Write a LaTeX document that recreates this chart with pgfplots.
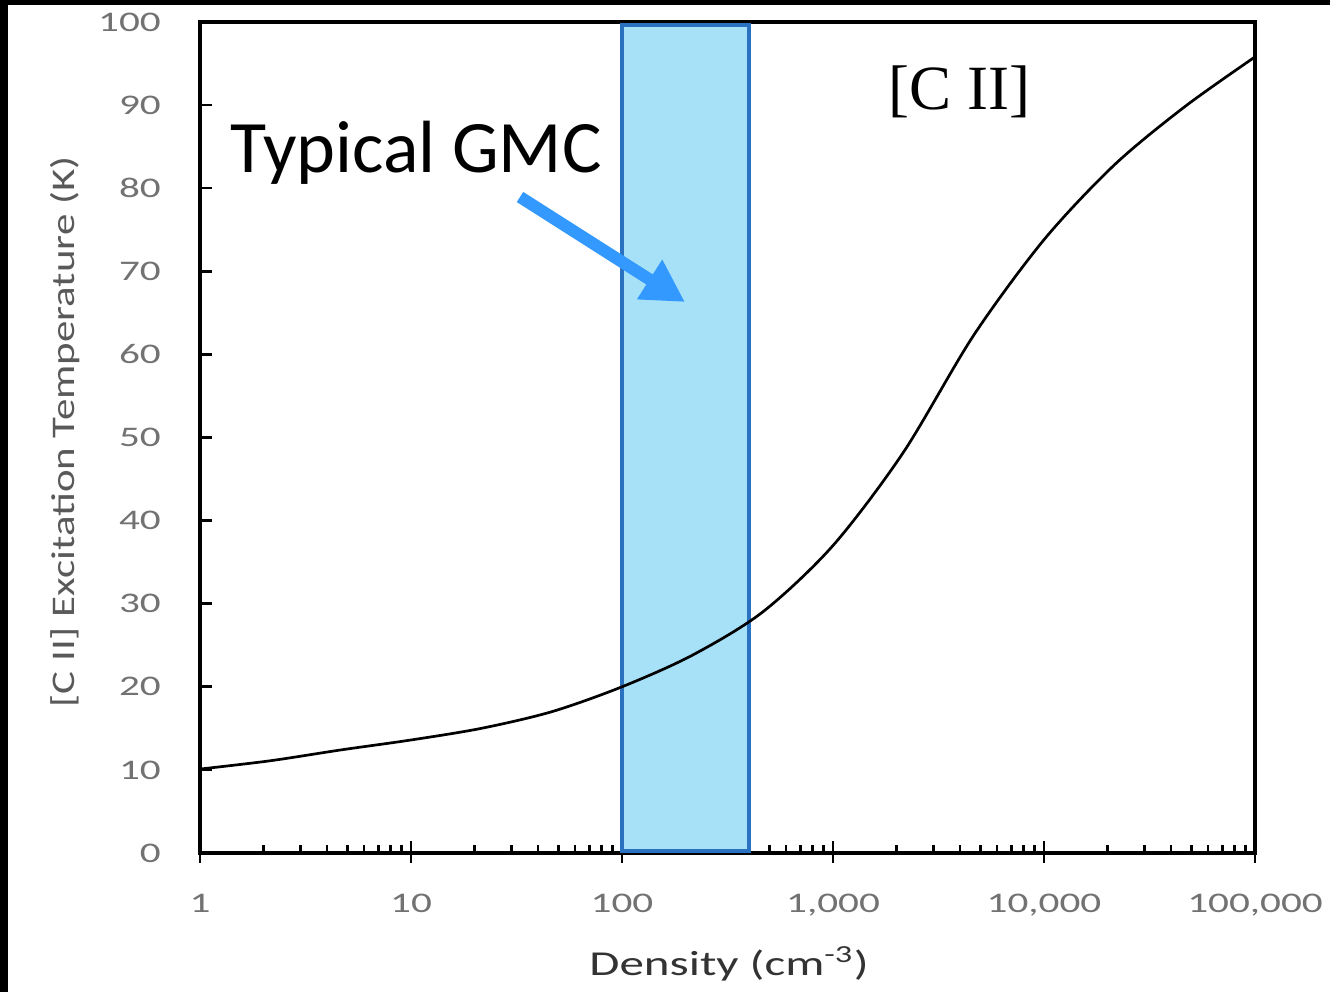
\documentclass[border=0pt]{standalone}
\usepackage{fontspec}
\setmainfont{Carlito}
\newfontfamily\timesfont{Liberation Serif}
\usepackage{graphicx}
\usepackage{pgfplots}
\pgfplotsset{compat=1.18}
\usetikzlibrary{arrows.meta}
\definecolor{tickgray}{HTML}{727272}
\definecolor{labgray}{HTML}{595959}
\definecolor{xlabgray}{HTML}{333333}
\definecolor{boxfill}{HTML}{A6E1F8}
\definecolor{boxedge}{HTML}{2A71C0}
\definecolor{arrowblue}{HTML}{3399FF}
\begin{document}
\begin{tikzpicture}
\useasboundingbox (0,0) rectangle (665pt,496pt);
\fill[white] (0,0) rectangle (665pt,496pt);
\begin{axis}[
  at={(100pt,69.5pt)}, anchor=south west,
  scale only axis, width=527.5pt, height=415.5pt,
  xmode=log, xmin=1, xmax=100000, ymin=0, ymax=100,
  xtick={1,10,100,1000,10000,100000},
  xticklabels={1,10,100,{1,000},{10,000},{100,000}},
  ytick={0,10,...,100},
  xtick pos=bottom, ytick pos=left,
  tick align=inside,
  major tick length=6pt, minor tick length=4pt,
  axis line style={line width=1.6pt},
  every tick/.style={black, line width=1.3pt},
  extra x ticks={1,10,100,1000,10000,100000},
  extra x tick labels={},
  extra x tick style={xtick align=outside, major tick length=5pt},
  /pgf/number format/assume math mode=true,
  ticklabel style={font=\fontsize{14.2}{16}\selectfont, text=tickgray, xscale=1.45},
  yticklabel style={anchor=east, xshift=-10pt},
  xticklabel style={anchor=north, yshift=-17pt},
  clip=false,
]
\addplot[fill=boxfill, draw=boxedge, line width=2pt] coordinates {(100,0.2) (100,99.6) (400,99.6) (400,0.2)} -- cycle;
\addplot[smooth, black, line width=1.35pt] coordinates {
(1,10.1) (2.154,11.1) (4.642,12.4) (10,13.6) (21.54,15.0) (46.42,17.0)
(100,20.0) (215.4,23.8) (464.2,29.0) (1000,37.0) (2154,48.2) (4642,62.3)
(10000,73.8) (21544,82.8) (46416,89.8) (100000,95.8)
};
\end{axis}
\draw[arrowblue, line width=6pt, -{Triangle[length=21pt,width=22pt]}] (260pt,397.5pt) -- (342.5pt,345pt);
\node[anchor=base west, inner sep=0pt, font=\fontsize{37}{40}\selectfont] at (115pt,409.5pt) {Typical GMC};
\node[anchor=base west, inner sep=0pt, font=\timesfont\fontsize{31.5}{34}\selectfont] at (444pt,441pt) {[C II]};
\node[anchor=base, inner sep=0pt, text=xlabgray, font=\fontsize{17.5}{20}\selectfont] at (364.5pt,8.5pt) {\scalebox{1.4}[1]{Density (cm\textsuperscript{-3})}};
\node[rotate=90, anchor=base, inner sep=0pt, text=labgray, font=\fontsize{16.5}{18}\selectfont] at (37.5pt,280pt) {\scalebox{1.3}[1]{[C II] Excitation Temperature (K)}};
\fill[black] (0,0) rectangle (4pt,496pt);
\fill[black] (0,493.5pt) rectangle (665pt,496pt);
\end{tikzpicture}
\end{document}
